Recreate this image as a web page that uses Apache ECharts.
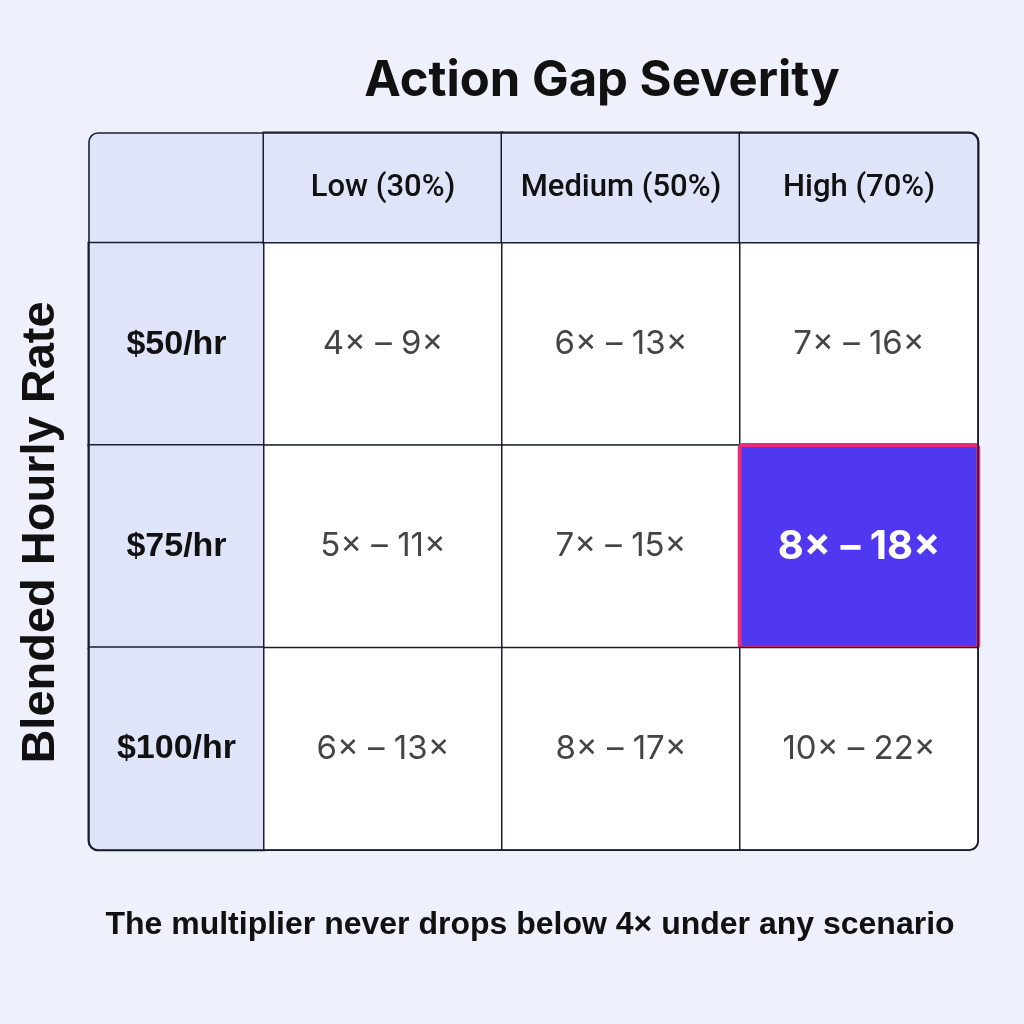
<!DOCTYPE html>
<html>
<head>
<meta charset="utf-8">
<title>Action Gap Severity</title>
<script src="https://cdn.jsdelivr.net/npm/echarts@6/dist/echarts.min.js"></script>
<style>html,body{margin:0;background:#eef0fb}</style>
</head>
<body>
<div id="main" style="width:1024px;height:1024px"></div>
<script>
// table data
var severities = ['Low (30%)', 'Medium (50%)', 'High (70%)'];
var rates = ['$50/hr', '$75/hr', '$100/hr'];
var lowMult = [[4, 6, 7], [5, 7, 8], [6, 8, 10]];
var highMult = [[9, 13, 16], [11, 15, 18], [13, 17, 22]];
var highlightCell = ['High (70%)', '$75/hr'];

var lineColor = '#1b1e30';
var headFill = '#e0e4f8';
var cornerR = 9;

var cells = [];
for (var r = 0; r < rates.length; r++) {
  for (var c = 0; c < severities.length; c++) {
    var hot = severities[c] === highlightCell[0] && rates[r] === highlightCell[1];
    var lastCorner = r === rates.length - 1 && c === severities.length - 1;
    var style = null;
    if (hot) style = { color: '#5038f0', borderColor: '#ea2a7c', borderWidth: 4, borderRadius: 3 };
    else if (lastCorner) style = { borderRadius: [0, 0, cornerR, 0] };
    cells.push({
      value: [c, r, lowMult[r][c], highMult[r][c]],
      itemStyle: style,
      label: hot ? { color: '#ffffff', fontSize: 40, fontWeight: 'bold' } : null,
      z2: hot ? 10 : 0
    });
  }
}

var headText = { fontFamily: 'Roboto', fontSize: 31, fontWeight: 500, color: '#111' };
var rowText = { fontFamily: 'Liberation Sans', fontSize: 34, fontWeight: 'bold', color: '#111' };

function box(base, extra) {
  return Object.assign({}, base, extra);
}

var myChart = echarts.init(document.getElementById('main'));
var option = {
  backgroundColor: '#eef0fb',
  title: [{
    text: 'Action Gap Severity',
    left: 597, top: 52, textAlign: 'center',
    textStyle: { fontFamily: 'Inter', fontSize: 49, fontWeight: 'bold', color: '#111' }
  }, {
    text: 'The multiplier never drops below 4× under any scenario',
    left: 525, top: 904, textAlign: 'center',
    textStyle: { fontFamily: 'Liberation Sans', fontSize: 32, fontWeight: 'bold', color: '#111' }
  }],
  graphic: [{
    type: 'rect', z: -10, silent: true,
    shape: { x: 89, y: 133, width: 889, height: 717, r: cornerR },
    style: { fill: headFill, stroke: null }
  }, {
    type: 'rect', z: 100, silent: true,
    shape: { x: 89, y: 133, width: 889, height: 717, r: cornerR },
    style: { fill: null, stroke: lineColor, lineWidth: 1.6 }
  }],
  grid: { left: 264, top: 243, width: 714, height: 607 },
  xAxis: {
    type: 'category', position: 'top', data: severities,
    axisTick: { show: false },
    axisLine: { show: false },
    axisLabel: {
      margin: 0, interval: 0,
      formatter: function (v, i) {
        return (i === severities.length - 1 ? '{r|' : '{h|') + v + '}';
      },
      rich: {
        h: box(headText, { width: 238, height: 110, lineHeight: 110, align: 'center',
          backgroundColor: headFill, borderColor: lineColor, borderWidth: 1.5 }),
        r: box(headText, { width: 238, height: 110, lineHeight: 110, align: 'center',
          backgroundColor: headFill, borderColor: lineColor, borderWidth: 1.5,
          borderRadius: [0, cornerR, 0, 0] })
      }
    }
  },
  yAxis: {
    type: 'category', inverse: true, data: rates,
    name: 'Blended Hourly Rate', nameLocation: 'middle', nameGap: 199, nameRotate: 90,
    nameTextStyle: { fontFamily: 'Liberation Sans', fontSize: 47, fontWeight: 'bold', color: '#111', padding: [0, 0, 0, 28] },
    axisTick: { show: false },
    axisLine: { show: false },
    axisLabel: {
      margin: 0, interval: 0,
      formatter: function (v, i) {
        return (i === rates.length - 1 ? '{b|' : '{h|') + v + '}';
      },
      rich: {
        h: box(rowText, { width: 175, height: 202, lineHeight: 202, align: 'center',
          backgroundColor: headFill, borderColor: lineColor, borderWidth: 1.5 }),
        b: box(rowText, { width: 175, height: 202, lineHeight: 202, align: 'center',
          backgroundColor: headFill, borderColor: lineColor, borderWidth: 1.5,
          borderRadius: [0, 0, 0, cornerR] })
      }
    }
  },
  series: [{
    type: 'heatmap',
    data: cells,
    itemStyle: { color: '#ffffff', borderColor: lineColor, borderWidth: 1.5 },
    label: {
      show: true, fontFamily: 'Inter', fontSize: 33, color: '#454545',
      formatter: function (p) { return p.value[2] + '× – ' + p.value[3] + '×'; }
    },
    emphasis: { disabled: true }
  }]
};
myChart.setOption(option);
</script>
</body>
</html>
